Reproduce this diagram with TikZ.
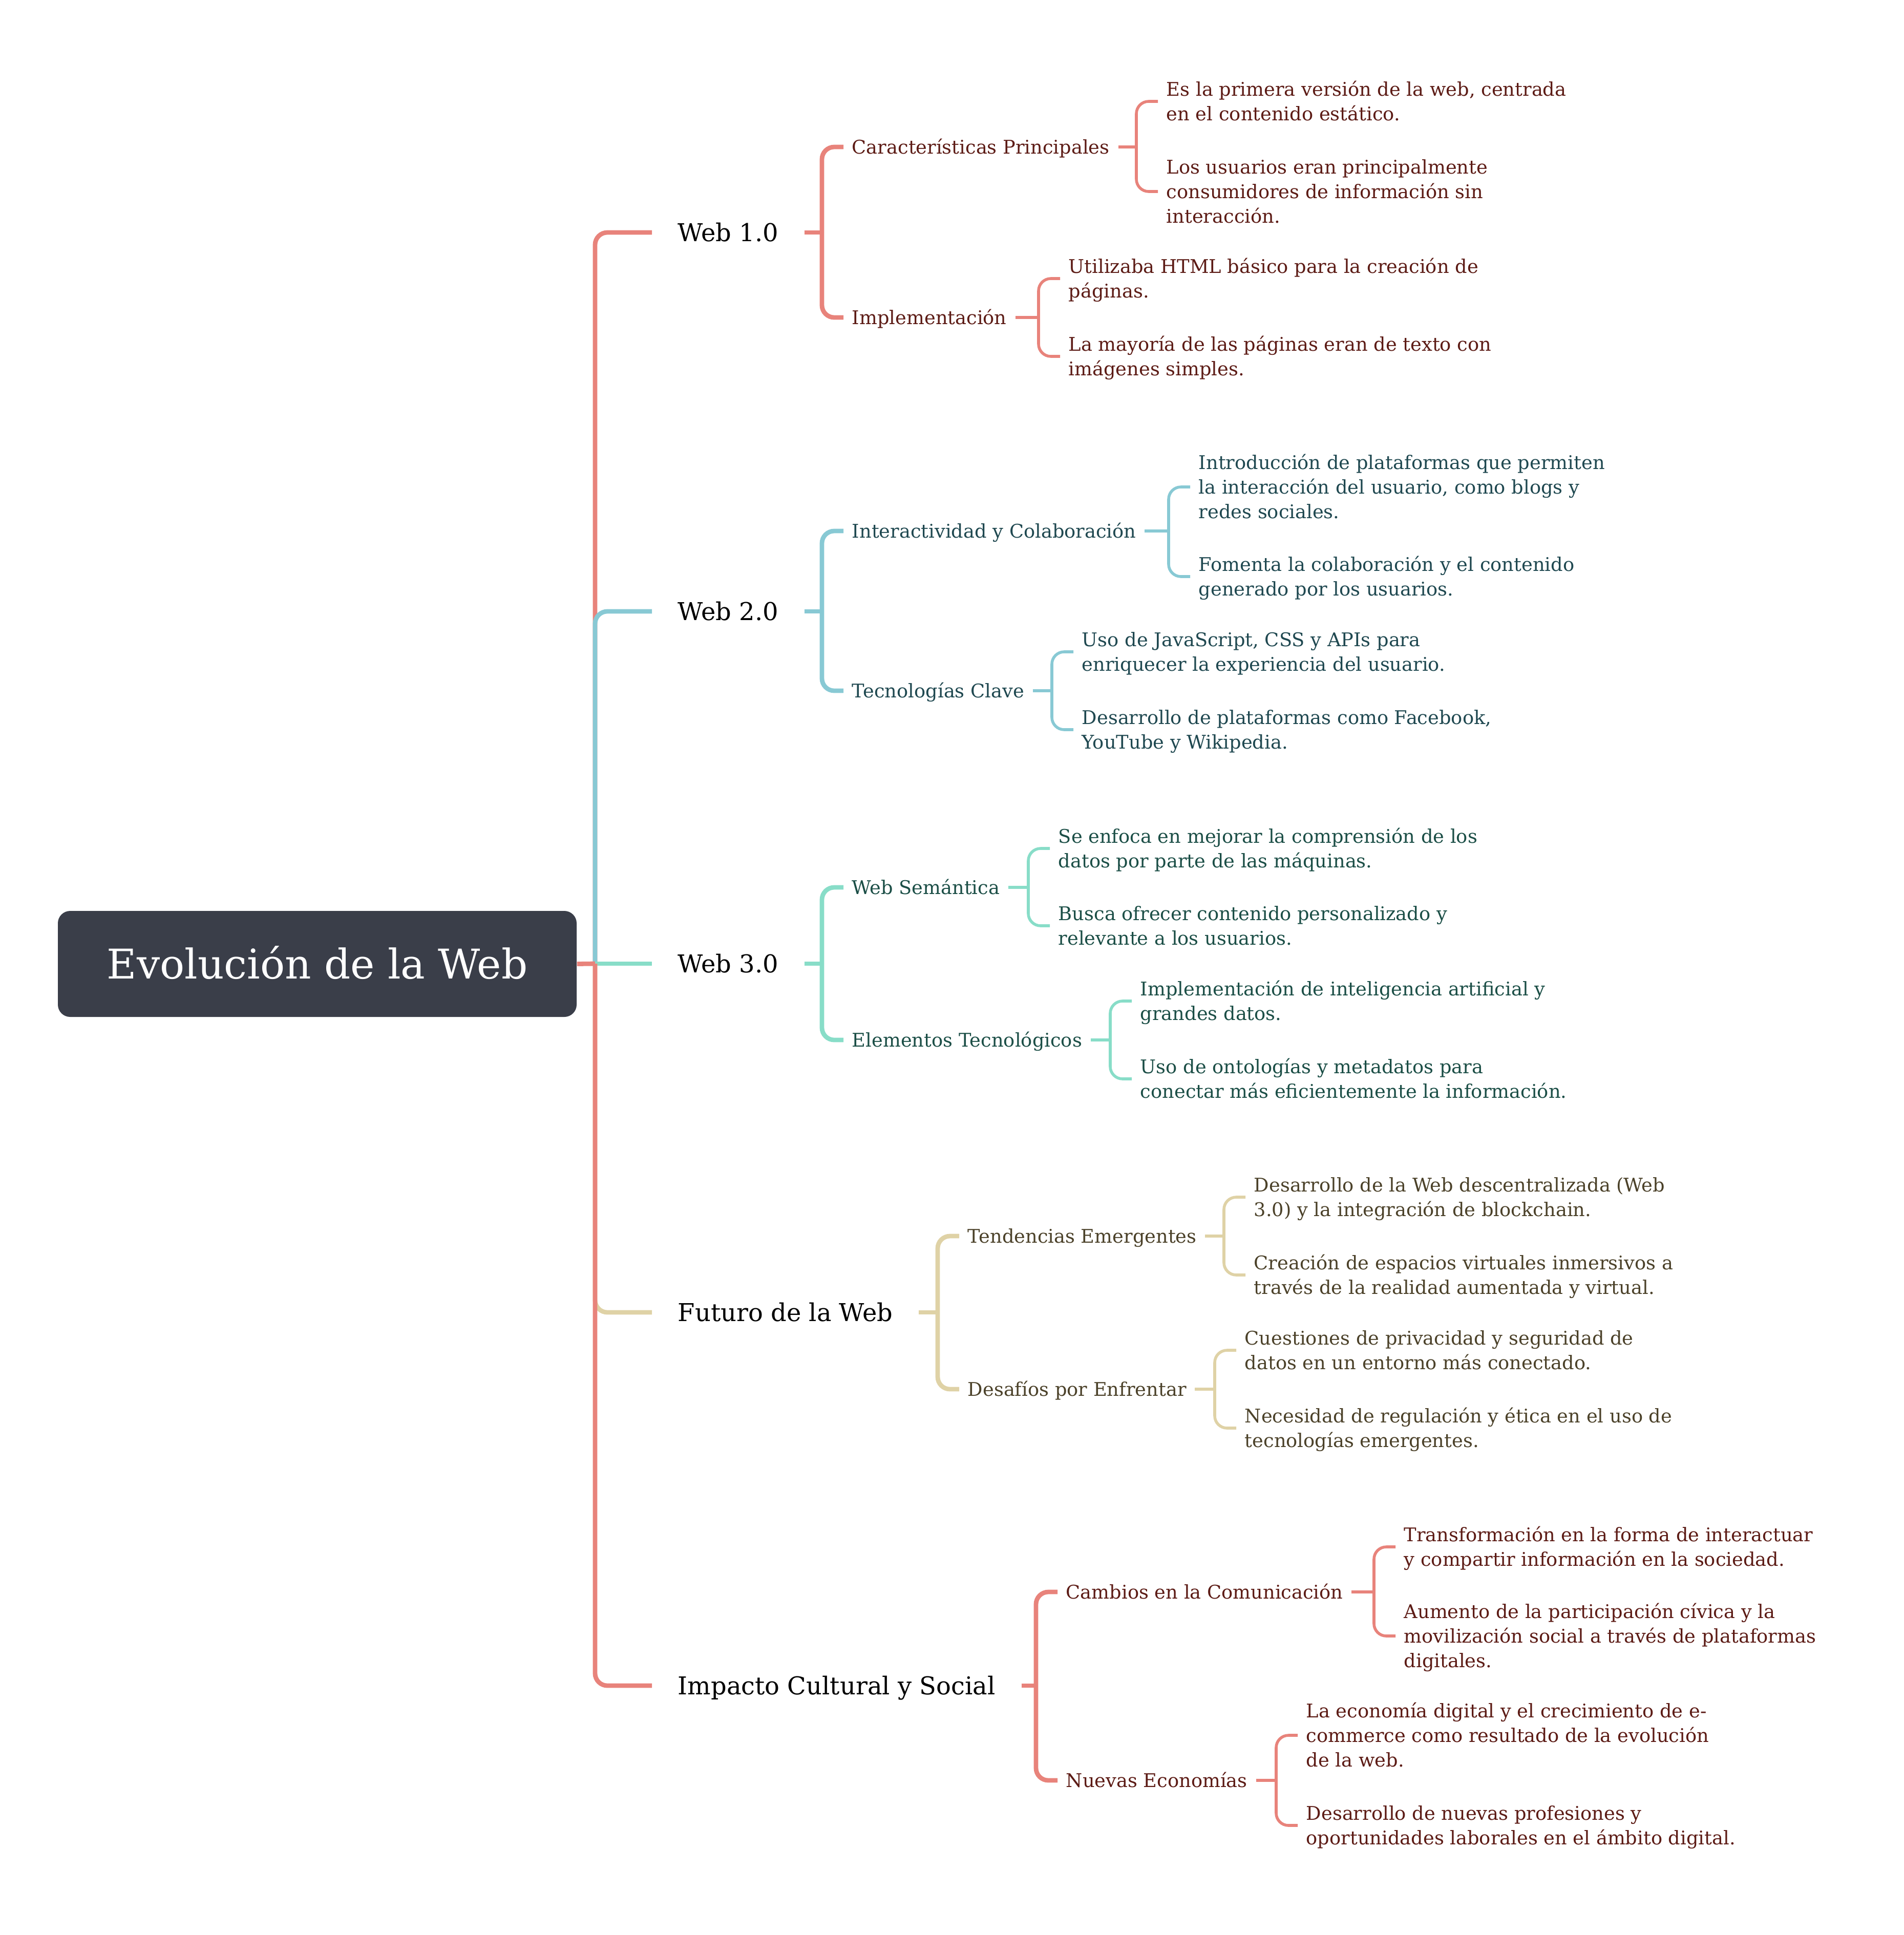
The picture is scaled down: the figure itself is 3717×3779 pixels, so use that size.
\documentclass[tikz,border=0pt]{standalone}
\usepackage{fontspec}
\setmainfont{DejaVu Serif}
\usetikzlibrary{calc}

\definecolor{rootfill}{HTML}{3A3E49}
\definecolor{redline}{HTML}{E8837B}
\definecolor{redtext}{HTML}{5C1B15}
\definecolor{tealline}{HTML}{88C9D4}
\definecolor{tealtext}{HTML}{1F4850}
\definecolor{mintline}{HTML}{88DDC8}
\definecolor{minttext}{HTML}{1B4E46}
\definecolor{tanline}{HTML}{DFD2A6}
\definecolor{tantext}{HTML}{4B4129}

% multi-line leaf text, baseline on the first line
\newcommand\leaflines[1]{\begin{tabular}[t]{@{}l@{}}#1\end{tabular}}

\begin{document}
\begin{tikzpicture}[x=0.25pt,y=-0.25pt,
  rootbox/.style={fill=rootfill, text=white, rounded corners=6pt,
    minimum width=253.25pt, minimum height=51.75pt, inner sep=0pt,
    font=\fontsize{20}{24}\selectfont, text height=14.6pt, text depth=0pt},
  topic/.style={anchor=west, inner xsep=12.5pt, inner ysep=0pt, text=black,
    font=\fontsize{12}{14}\selectfont, text height=8.75pt, text depth=0pt},
  sub/.style={anchor=west, inner xsep=4pt, inner ysep=0pt,
    font=\fontsize{9.2}{12}\selectfont, text height=6.7pt, text depth=0pt},
  leaf/.style={anchor=west, inner xsep=4pt, inner ysep=0pt,
    font=\fontsize{9.2}{12}\selectfont, text height=6.7pt, text depth=#1},
  leaf/.default=12pt,
  trunk/.style={line width=2.2pt, rounded corners=6pt},
  twig/.style={line width=1.4pt, rounded corners=6pt},
]
\useasboundingbox (0,0) rectangle (3717,3779);

% ---------- central topic ----------
\node[rootbox] (root) at (619.5,1882.5) {Evolución de la Web};
\coordinate (hub) at (1162,1882);

% ---------- main topics ----------
\node[topic] (w1) at (1273,454)  {Web 1.0};
\node[topic] (w2) at (1273,1194) {Web 2.0};
\node[topic] (w3) at (1273,1882) {Web 3.0};
\node[topic] (fu) at (1273,2563) {Futuro de la Web};
\node[topic] (im) at (1273,3292) {Impacto Cultural y Social};

\draw[trunk, redline]  (hub) -- (hub |- w1.west) -- (w1.west);
\draw[trunk, tealline] (hub) -- (hub |- w2.west) -- (w2.west);
\draw[trunk, mintline] (hub) -- (w3.west);
\draw[trunk, tanline]  (hub) -- (hub |- fu.west) -- (fu.west);
\draw[trunk, redline]  (hub) -- (hub |- im.west) -- (im.west);
\draw[trunk, redline]  (root.east) -- (hub);

% ---------- Web 1.0 ----------
\begin{scope}[every node/.append style={text=redtext}]
\node[sub] (c11) at (1647,287) {Características Principales};
\node[sub] (c12) at (1647,620) {Implementación};
\node[leaf] (l111) at (2261,198) {\leaflines{Es la primera versión de la web, centrada\\en el contenido estático.}};
\node[leaf=24pt] (l112) at (2261,374) {\leaflines{Los usuarios eran principalmente\\consumidores de información sin\\interacción.}};
\node[leaf] (l121) at (2070,544) {\leaflines{Utilizaba HTML básico para la creación de\\páginas.}};
\node[leaf] (l122) at (2070,696) {\leaflines{La mayoría de las páginas eran de texto con\\imágenes simples.}};
\end{scope}
\coordinate (v1) at ($(c11.west)+(-42,0)$);
\draw[trunk, redline] (w1.east) -- (v1 |- w1.east);
\draw[trunk, redline] (v1 |- w1.east) -- (v1 |- c11.west) -- (c11.west);
\draw[trunk, redline] (v1 |- w1.east) -- (v1 |- c12.west) -- (c12.west);
\coordinate (v11) at ($(l111.west)+(-42,0)$);
\draw[twig, redline] (c11.east) -- (v11 |- c11.east);
\draw[twig, redline] (v11 |- c11.east) -- (v11 |- l111.west) -- (l111.west);
\draw[twig, redline] (v11 |- c11.east) -- (v11 |- l112.west) -- (l112.west);
\coordinate (v12) at ($(l121.west)+(-42,0)$);
\draw[twig, redline] (c12.east) -- (v12 |- c12.east);
\draw[twig, redline] (v12 |- c12.east) -- (v12 |- l121.west) -- (l121.west);
\draw[twig, redline] (v12 |- c12.east) -- (v12 |- l122.west) -- (l122.west);

% ---------- Web 2.0 ----------
\begin{scope}[every node/.append style={text=tealtext}]
\node[sub] (c21) at (1647,1037) {Interactividad y Colaboración};
\node[sub] (c22) at (1647,1349) {Tecnologías Clave};
\node[leaf=24pt] (l211) at (2324,951) {\leaflines{Introducción de plataformas que permiten\\la interacción del usuario, como blogs y\\redes sociales.}};
\node[leaf] (l212) at (2324,1126) {\leaflines{Fomenta la colaboración y el contenido\\generado por los usuarios.}};
\node[leaf] (l221) at (2096,1273) {\leaflines{Uso de JavaScript, CSS y APIs para\\enriquecer la experiencia del usuario.}};
\node[leaf] (l222) at (2096,1425) {\leaflines{Desarrollo de plataformas como Facebook,\\YouTube y Wikipedia.}};
\end{scope}
\coordinate (v2) at ($(c21.west)+(-42,0)$);
\draw[trunk, tealline] (w2.east) -- (v2 |- w2.east);
\draw[trunk, tealline] (v2 |- w2.east) -- (v2 |- c21.west) -- (c21.west);
\draw[trunk, tealline] (v2 |- w2.east) -- (v2 |- c22.west) -- (c22.west);
\coordinate (v21) at ($(l211.west)+(-42,0)$);
\draw[twig, tealline] (c21.east) -- (v21 |- c21.east);
\draw[twig, tealline] (v21 |- c21.east) -- (v21 |- l211.west) -- (l211.west);
\draw[twig, tealline] (v21 |- c21.east) -- (v21 |- l212.west) -- (l212.west);
\coordinate (v22) at ($(l221.west)+(-42,0)$);
\draw[twig, tealline] (c22.east) -- (v22 |- c22.east);
\draw[twig, tealline] (v22 |- c22.east) -- (v22 |- l221.west) -- (l221.west);
\draw[twig, tealline] (v22 |- c22.east) -- (v22 |- l222.west) -- (l222.west);

% ---------- Web 3.0 ----------
\begin{scope}[every node/.append style={text=minttext}]
\node[sub] (c31) at (1647,1733) {Web Semántica};
\node[sub] (c32) at (1647,2031) {Elementos Tecnológicos};
\node[leaf] (l311) at (2050,1657) {\leaflines{Se enfoca en mejorar la comprensión de los\\datos por parte de las máquinas.}};
\node[leaf] (l312) at (2050,1808) {\leaflines{Busca ofrecer contenido personalizado y\\relevante a los usuarios.}};
\node[leaf] (l321) at (2210,1955) {\leaflines{Implementación de inteligencia artificial y\\grandes datos.}};
\node[leaf] (l322) at (2210,2107) {\leaflines{Uso de ontologías y metadatos para\\conectar más eficientemente la información.}};
\end{scope}
\coordinate (v3) at ($(c31.west)+(-42,0)$);
\draw[trunk, mintline] (w3.east) -- (v3 |- w3.east);
\draw[trunk, mintline] (v3 |- w3.east) -- (v3 |- c31.west) -- (c31.west);
\draw[trunk, mintline] (v3 |- w3.east) -- (v3 |- c32.west) -- (c32.west);
\coordinate (v31) at ($(l311.west)+(-42,0)$);
\draw[twig, mintline] (c31.east) -- (v31 |- c31.east);
\draw[twig, mintline] (v31 |- c31.east) -- (v31 |- l311.west) -- (l311.west);
\draw[twig, mintline] (v31 |- c31.east) -- (v31 |- l312.west) -- (l312.west);
\coordinate (v32) at ($(l321.west)+(-42,0)$);
\draw[twig, mintline] (c32.east) -- (v32 |- c32.east);
\draw[twig, mintline] (v32 |- c32.east) -- (v32 |- l321.west) -- (l321.west);
\draw[twig, mintline] (v32 |- c32.east) -- (v32 |- l322.west) -- (l322.west);

% ---------- Futuro de la Web ----------
\begin{scope}[every node/.append style={text=tantext}]
\node[sub] (c41) at (1873,2414) {Tendencias Emergentes};
\node[sub] (c42) at (1873,2713) {Desafíos por Enfrentar};
\node[leaf] (l411) at (2432,2338) {\leaflines{Desarrollo de la Web descentralizada (Web\\3.0) y la integración de blockchain.}};
\node[leaf] (l412) at (2432,2490) {\leaflines{Creación de espacios virtuales inmersivos a\\través de la realidad aumentada y virtual.}};
\node[leaf] (l421) at (2414,2637) {\leaflines{Cuestiones de privacidad y seguridad de\\datos en un entorno más conectado.}};
\node[leaf] (l422) at (2414,2789) {\leaflines{Necesidad de regulación y ética en el uso de\\tecnologías emergentes.}};
\end{scope}
\coordinate (v4) at ($(c41.west)+(-42,0)$);
\draw[trunk, tanline] (fu.east) -- (v4 |- fu.east);
\draw[trunk, tanline] (v4 |- fu.east) -- (v4 |- c41.west) -- (c41.west);
\draw[trunk, tanline] (v4 |- fu.east) -- (v4 |- c42.west) -- (c42.west);
\coordinate (v41) at ($(l411.west)+(-42,0)$);
\draw[twig, tanline] (c41.east) -- (v41 |- c41.east);
\draw[twig, tanline] (v41 |- c41.east) -- (v41 |- l411.west) -- (l411.west);
\draw[twig, tanline] (v41 |- c41.east) -- (v41 |- l412.west) -- (l412.west);
\coordinate (v42) at ($(l421.west)+(-42,0)$);
\draw[twig, tanline] (c42.east) -- (v42 |- c42.east);
\draw[twig, tanline] (v42 |- c42.east) -- (v42 |- l421.west) -- (l421.west);
\draw[twig, tanline] (v42 |- c42.east) -- (v42 |- l422.west) -- (l422.west);

% ---------- Impacto Cultural y Social ----------
\begin{scope}[every node/.append style={text=redtext}]
\node[sub] (c51) at (2065,3109) {Cambios en la Comunicación};
\node[sub] (c52) at (2065,3477) {Nuevas Economías};
\node[leaf] (l511) at (2725,3021) {\leaflines{Transformación en la forma de interactuar\\y compartir información en la sociedad.}};
\node[leaf=24pt] (l512) at (2725,3195) {\leaflines{Aumento de la participación cívica y la\\movilización social a través de plataformas\\digitales.}};
\node[leaf=24pt] (l521) at (2534,3389) {\leaflines{La economía digital y el crecimiento de e-\\commerce como resultado de la evolución\\de la web.}};
\node[leaf] (l522) at (2534,3565) {\leaflines{Desarrollo de nuevas profesiones y\\oportunidades laborales en el ámbito digital.}};
\end{scope}
\coordinate (v5) at ($(c51.west)+(-42,0)$);
\draw[trunk, redline] (im.east) -- (v5 |- im.east);
\draw[trunk, redline] (v5 |- im.east) -- (v5 |- c51.west) -- (c51.west);
\draw[trunk, redline] (v5 |- im.east) -- (v5 |- c52.west) -- (c52.west);
\coordinate (v51) at ($(l511.west)+(-42,0)$);
\draw[twig, redline] (c51.east) -- (v51 |- c51.east);
\draw[twig, redline] (v51 |- c51.east) -- (v51 |- l511.west) -- (l511.west);
\draw[twig, redline] (v51 |- c51.east) -- (v51 |- l512.west) -- (l512.west);
\coordinate (v52) at ($(l521.west)+(-42,0)$);
\draw[twig, redline] (c52.east) -- (v52 |- c52.east);
\draw[twig, redline] (v52 |- c52.east) -- (v52 |- l521.west) -- (l521.west);
\draw[twig, redline] (v52 |- c52.east) -- (v52 |- l522.west) -- (l522.west);

\end{tikzpicture}
\end{document}
